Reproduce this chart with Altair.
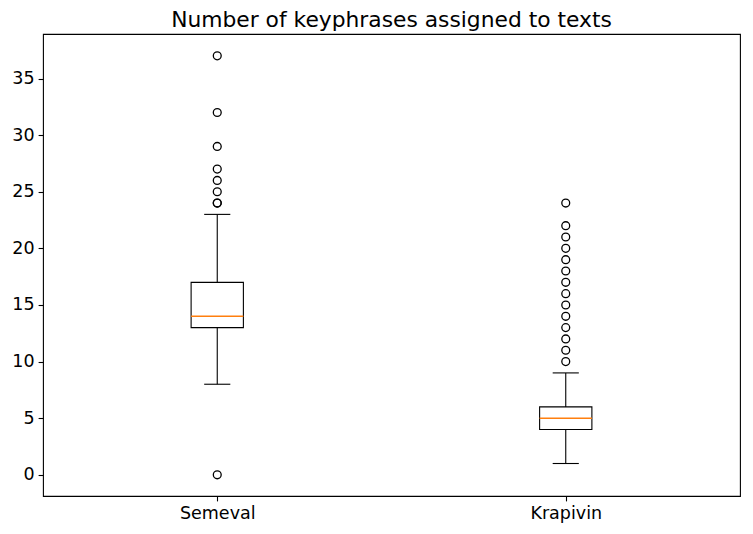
import altair as alt
import pandas as pd

categories = ["Semeval", "Krapivin"]
whislo = [8, 1]
q1 = [13, 4]
median = [14, 5]
q3 = [17, 6]
whishi = [23, 9]
outliers_semeval = [0, 24, 24, 25, 26, 27, 29, 32, 37]
outliers_krapivin = [10, 11, 12, 13, 14, 15, 16, 17, 18, 19, 20, 21, 22, 24]

stats = pd.DataFrame({
    "cat": categories,
    "pos": [1, 2],
    "whislo": whislo,
    "q1": q1,
    "median": median,
    "q3": q3,
    "whishi": whishi,
})
out_rows = [{"cat": "Semeval", "pos": 1, "v": v} for v in outliers_semeval] + \
           [{"cat": "Krapivin", "pos": 2, "v": v} for v in outliers_krapivin]
outl = pd.DataFrame(out_rows)

FONT = "DejaVu Sans"
xscale = alt.Scale(domain=[0.5, 2.5], nice=False, zero=False)
yscale = alt.Scale(domain=[-1.87, 38.93], nice=False, zero=False)

xaxis = alt.Axis(values=[1, 2], title=None, grid=False, domain=False,
                 labelExpr="datum.value == 1 ? 'Semeval' : 'Krapivin'")
yaxis = alt.Axis(values=[0, 5, 10, 15, 20, 25, 30, 35], title=None, grid=False, domain=False)

base = alt.Chart(stats).transform_calculate(
    bl="datum.pos - 0.075", br="datum.pos + 0.075",
    cl="datum.pos - 0.0375", cr="datum.pos + 0.0375",
)

whisk_lo = base.mark_rule(color="black", strokeWidth=1.1).encode(
    x=alt.X("pos:Q", scale=xscale, axis=xaxis),
    y=alt.Y("whislo:Q", scale=yscale, axis=yaxis),
    y2="q1:Q",
)
whisk_hi = base.mark_rule(color="black", strokeWidth=1.1).encode(
    x=alt.X("pos:Q", scale=xscale), y=alt.Y("q3:Q", scale=yscale), y2="whishi:Q",
)
cap_lo = base.mark_rule(color="black", strokeWidth=1.1).encode(
    x=alt.X("cl:Q", scale=xscale), x2="cr:Q", y=alt.Y("whislo:Q", scale=yscale),
)
cap_hi = base.mark_rule(color="black", strokeWidth=1.1).encode(
    x=alt.X("cl:Q", scale=xscale), x2="cr:Q", y=alt.Y("whishi:Q", scale=yscale),
)
box = base.mark_rect(fill="white", fillOpacity=0, stroke="black", strokeWidth=1.1).encode(
    x=alt.X("bl:Q", scale=xscale), x2="br:Q",
    y=alt.Y("q1:Q", scale=yscale), y2="q3:Q",
)
med = base.mark_rule(color="#ff7f0e", strokeWidth=1.4).encode(
    x=alt.X("bl:Q", scale=xscale), x2="br:Q", y=alt.Y("median:Q", scale=yscale),
)
pts = alt.Chart(outl).mark_point(shape="circle", filled=False, color="black",
                                 size=62, strokeWidth=1.3, opacity=1).encode(
    x=alt.X("pos:Q", scale=xscale), y=alt.Y("v:Q", scale=yscale),
)

chart = alt.layer(whisk_lo, whisk_hi, cap_lo, cap_hi, box, med, pts).properties(
    width=697, height=462,
    title=alt.Title("Number of keyphrases assigned to texts", fontSize=21.8, font=FONT,
                    fontWeight="normal", color="black", offset=2),
    autosize=alt.AutoSizeParams(type="none"),
    padding={"left": 35, "top": 26, "right": 5, "bottom": 30},
).configure_view(stroke="black", strokeWidth=1.1).configure_axis(
    labelFont=FONT, labelFontSize=17.5, labelColor="black",
    tickColor="black", tickSize=4.9, tickWidth=1.1, labelPadding=4,
)

chart.save("out.html", embed_options={"renderer": "svg", "actions": False})
